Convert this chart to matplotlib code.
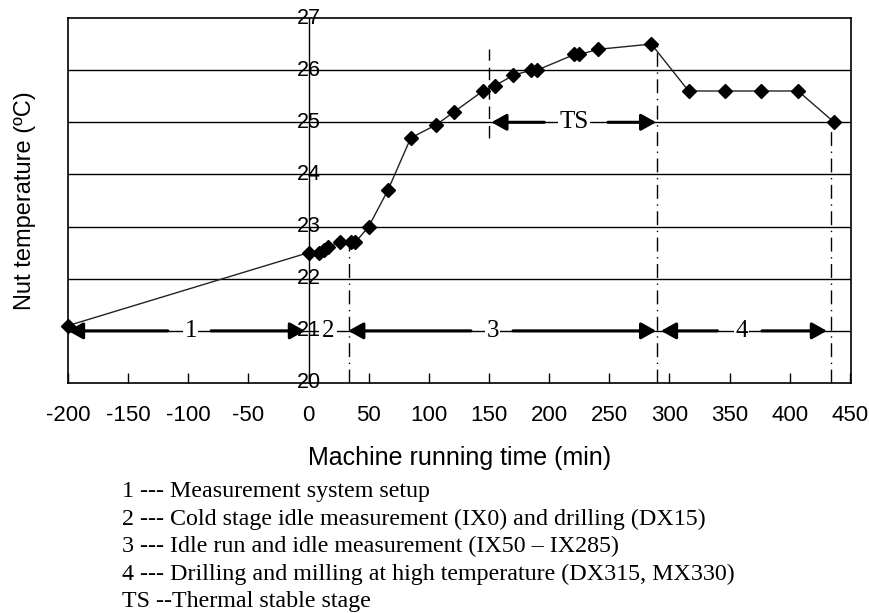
import matplotlib
matplotlib.use('Agg')
import matplotlib.pyplot as plt

# measured nut temperature
time_min = [-200, 0, 9, 13, 16, 26, 35, 39, 50, 66, 85, 106, 121, 145, 155,
            170, 185, 190, 221, 225, 241, 285, 316, 346, 376, 407, 437]
temp_c = [21.1, 22.5, 22.5, 22.55, 22.6, 22.7, 22.7, 22.7, 23.0, 23.7, 24.7,
          24.95, 25.2, 25.6, 25.7, 25.9, 26.0, 26.0, 26.3, 26.3, 26.4, 26.5,
          25.6, 25.6, 25.6, 25.6, 25.0]

x_ticks = list(range(-200, 451, 50))
y_ticks = [20, 21, 22, 23, 24, 25, 26, 27]

# stage boundaries (x, y top) drawn as dash-dot lines
stage_lines = [(34, 22.7), (290, 26.5), (434, 25.0)]
ts_line = (150, 24.7, 26.4)

# stage arrows: label, y, left tip, left line end, label x, right line start, right tip
stage_arrows = [
    ("1", 21, -200, -117, -98, -81, -3),
    ("3", 21, 33, 135, 153, 170, 289),
    ("4", 21, 293, 340, 360, 377, 431),
    ("TS", 25, 152, 196, 221, 249, 289),
]

captions = [
    "1 --- Measurement system setup",
    "2 --- Cold stage idle measurement (IX0) and drilling (DX15)",
    "3 --- Idle run and idle measurement (IX50 \u2013 IX285)",
    "4 --- Drilling and milling at high temperature (DX315, MX330)",
    "TS --Thermal stable stage",
]

sans = ['Liberation Sans', 'DejaVu Sans']
serif = ['Liberation Serif', 'DejaVu Serif']

W, H = 870, 613
fig = plt.figure(figsize=(W / 100, H / 100), dpi=100)
ax = fig.add_axes([68 / W, 1 - 383 / H, 783 / W, 365 / H])
ax.set_xlim(-200, 451)
ax.set_ylim(20, 27)

for s in ax.spines.values():
    s.set_color('black')
    s.set_linewidth(1.2)

# horizontal grid
for yv in y_ticks[1:-1]:
    ax.axhline(yv, color='black', lw=1.0, zorder=1)
# y axis at x = 0
ax.axvline(0, color='black', lw=1.0, zorder=1)

ax.set_yticks([])
ax.set_xticks(x_ticks)
ax.set_xticklabels([str(v) for v in x_ticks], fontfamily=sans, fontsize=16)
ax.tick_params(axis='x', direction='in', length=7, width=1, pad=16)

for yv in y_ticks:
    ax.text(0, yv, str(yv), ha='center', va='center', fontsize=15.5,
            family=sans, zorder=2)

# data
ax.plot(time_min, temp_c, color='#222222', lw=1.0, marker='D',
        markersize=7.5, markerfacecolor='black', markeredgecolor='black',
        zorder=5, clip_on=False)

# stage boundaries
for xv, ytop in stage_lines:
    ax.plot([xv, xv], [20, ytop], color='black', lw=1.0,
            linestyle=(0, (10, 4, 1, 4)), zorder=3)
ax.plot([ts_line[0], ts_line[0]], [ts_line[1], ts_line[2]], color='black',
        lw=1.0, linestyle=(0, (9, 5)), zorder=3)

arrow_kw = dict(arrowstyle='-|>,head_length=0.9,head_width=0.5',
                color='black', lw=2.2, shrinkA=0, shrinkB=0)
for lab, yv, lt, le, lx, rs, rt in stage_arrows:
    ax.annotate('', xy=(lt, yv), xytext=(le, yv), arrowprops=arrow_kw, zorder=4)
    ax.annotate('', xy=(rt, yv), xytext=(rs, yv), arrowprops=arrow_kw, zorder=4)
    ax.text(lx, yv, lab, ha='center', va='center', fontsize=18, family=serif,
            zorder=6, bbox=dict(facecolor='white', edgecolor='none', pad=1))

ax.text(16, 21, "2", ha='center', va='center', fontsize=18, family=serif,
        zorder=6, bbox=dict(facecolor='white', edgecolor='none', pad=2))

fig.text(460 / W, 1 - 458 / H, "Machine running time (min)", ha='center',
         va='center', fontsize=18, family=sans)
fig.text(25 / W, 1 - 201 / H, "Nut temperature (\u00baC)", ha='center',
         va='center', rotation=90, fontsize=17, family=sans)

for i, line in enumerate(captions):
    fig.text(122 / W, 1 - (497 + 27.6 * i) / H, line, ha='left',
             va='baseline', fontsize=17.3, family=serif)

fig.savefig('out.png', dpi=100)
